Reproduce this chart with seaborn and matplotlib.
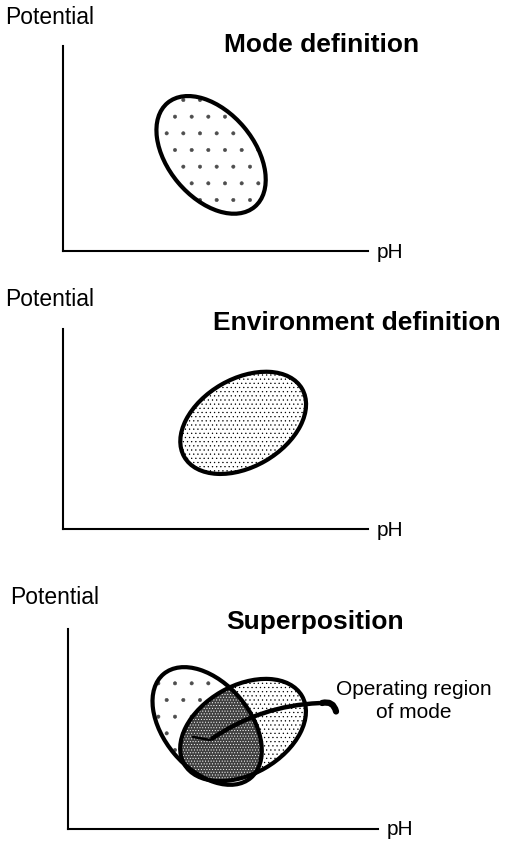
import matplotlib
matplotlib.use("Agg")
import matplotlib.pyplot as plt
from matplotlib.patches import Ellipse
import seaborn as sns

# datos: regiones en el plano pH / potencial
panel_titles = ["Mode definition", "Environment definition", "Superposition"]
x_label = "pH"
y_label = "Potential"
note_text = "Operating region\nof mode"

# elipse del modo (centro pH, centro potencial, ancho, alto, angulo)
mode_center = [6.64, 4.31]
mode_size = [6.08, 3.86]
mode_angle = -50
# elipse del entorno
env_center = [8.08, 4.76]
env_size = [6.10, 3.95]
env_angle = 30
# superposicion
sup_mode_center = [6.24, 4.62]
sup_env_center = [7.85, 4.44]
# flecha hacia la region de operacion
op_point = [6.37, 3.99]
op_tail = [11.39, 5.65]
op_hook = [12.02, 5.27]
op_barb = [5.61, 4.13]

sns.set_theme(style="white")
plt.rcParams["font.family"] = ["Liberation Sans", "DejaVu Sans"]
plt.rcParams["text.color"] = "black"
plt.rcParams["hatch.linewidth"] = 0.4

W, H = 505, 845
fig = plt.figure(figsize=(W / 100, H / 100), dpi=100)

# cajas de cada panel en pixeles (izq, arriba, ancho, alto); 22.3 px por unidad de pH
boxes = [(63, 47, 305, 205), (63, 330, 305, 200), (68, 630, 310, 200)]
pot_pos = [(5, 18), (5, 299), (10, 598)]
title_pos = [(322, 45), (357, 323), (315, 622)]
axes = []
for (l, t, w, h), (px, py), (tx, ty), title in zip(boxes, pot_pos, title_pos, panel_titles):
    ax = fig.add_axes([l / W, (H - t - h) / H, w / W, h / H])
    ax.set_xlim(0, w / 22.3)
    ax.set_ylim(0, h / 22.3)
    ax.set_xticks([])
    ax.set_yticks([])
    sns.despine(ax=ax)
    for s in ["left", "bottom"]:
        ax.spines[s].set_color("black")
        ax.spines[s].set_linewidth(1.5)
    ax.text(1 + 9 / w, 0, x_label, transform=ax.transAxes, fontsize=15,
            ha="left", va="center")
    fig.text(px / W, 1 - py / H, y_label, fontsize=16.5, ha="left", va="center")
    fig.text(tx / W, 1 - ty / H, title, fontsize=19, fontweight="bold",
             ha="center", va="center")
    axes.append(ax)

def region(center, size, angle, hatch, hc="black", **kw):
    return Ellipse(center, size[0], size[1], angle=angle, facecolor="white",
                   edgecolor=hc, hatch=hatch, **kw)

def outline(ax, center, size, angle):
    ax.add_patch(Ellipse(center, size[0], size[1], angle=angle,
                         fill=False, edgecolor="black", lw=3))

# panel 1: modo
axes[0].add_patch(region(mode_center, mode_size, mode_angle, ".", hc="0.3", lw=0))
outline(axes[0], mode_center, mode_size, mode_angle)

# panel 2: entorno
axes[1].add_patch(region(env_center, env_size, env_angle, "....", lw=0))
outline(axes[1], env_center, env_size, env_angle)

# panel 3: superposicion
ax = axes[2]
ax.add_patch(region(sup_mode_center, mode_size, mode_angle, ".", hc="0.3", lw=0))
ax.add_patch(region(sup_env_center, env_size, env_angle, "....", lw=0))
clip = Ellipse(sup_mode_center, mode_size[0], mode_size[1], angle=mode_angle,
               transform=ax.transData)
overlap = Ellipse(sup_env_center, env_size[0], env_size[1], angle=env_angle,
                  facecolor="0.25", edgecolor="white", hatch="......", lw=0)
ax.add_patch(overlap)
overlap.set_clip_path(clip)
outline(ax, sup_mode_center, mode_size, mode_angle)
outline(ax, sup_env_center, env_size, env_angle)

ax.annotate("", xy=op_point, xytext=op_tail,
            arrowprops=dict(arrowstyle="-", lw=3.2, color="black",
                            connectionstyle="arc3,rad=0.15"))
ax.annotate("", xy=op_hook, xytext=op_tail,
            arrowprops=dict(arrowstyle="-", lw=4.5, color="black",
                            shrinkA=0, shrinkB=0, capstyle="round",
                            connectionstyle="arc3,rad=-0.5"))
ax.plot([op_barb[0], op_point[0]], [op_barb[1], op_point[1]], color="black", lw=1.8)
fig.text(414 / W, 1 - 701 / H, note_text, fontsize=15, ha="center", va="center",
         linespacing=1.25)

fig.savefig("out.png", dpi=100)
